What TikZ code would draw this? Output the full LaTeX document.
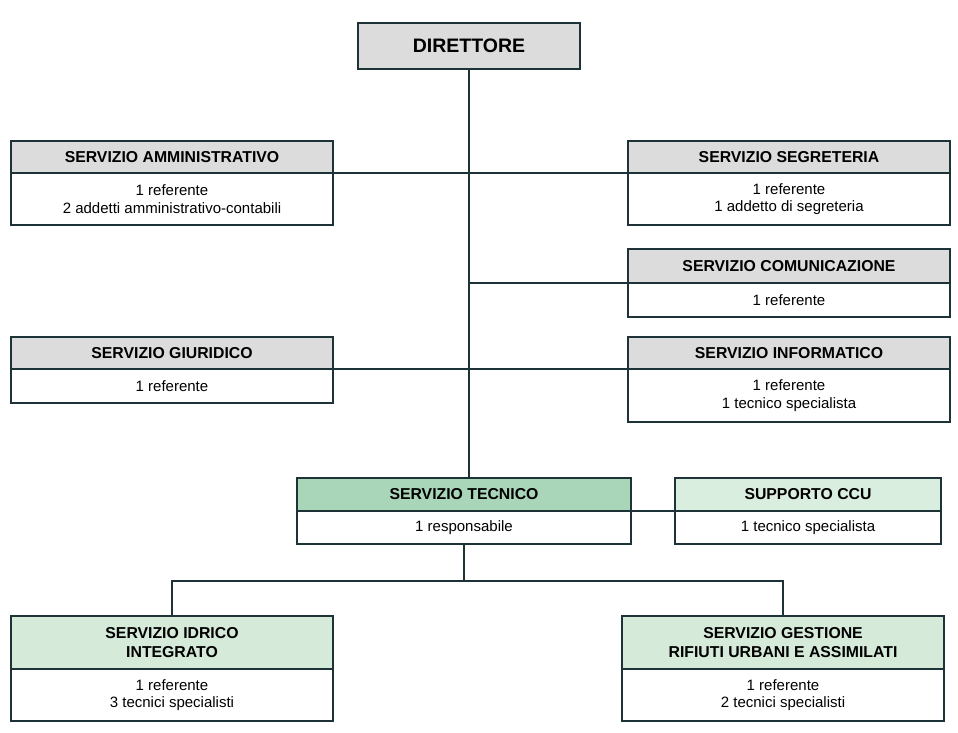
\documentclass[tikz,border=0pt]{standalone}
\usepackage{fontspec}
\setmainfont{Liberation Sans}
\usetikzlibrary{positioning}
\definecolor{edge}{HTML}{1D3337}
\definecolor{hgray}{HTML}{DCDCDC}
\definecolor{hgreen}{HTML}{A9D6B8}
\definecolor{lgreen}{HTML}{DAEEDF}
\definecolor{pgreen}{HTML}{D5EAD8}

\begin{document}
\begin{tikzpicture}[x=1pt,y=-1pt,
  head/.style={draw=edge,line width=1.5pt,fill=hgray,anchor=north west,inner sep=0pt,outer sep=0pt,
    align=center,font=\bfseries\fontsize{15.8}{19.5}\selectfont},
  body/.style={draw=edge,line width=1.5pt,fill=white,inner sep=0pt,outer sep=0pt,
    align=center,font=\fontsize{15}{17.5}\selectfont},
  link/.style={draw=edge,line width=1.5pt},
]
\useasboundingbox[fill=white] (0,0) rectangle (958,733);
% direttore
\node[head,minimum width=222,minimum height=46,font=\bfseries\fontsize{19.5}{21}\selectfont] (dir) at (358,23) {DIRETTORE};
% servizi di staff
\node[head,minimum width=322,minimum height=32] (ammH) at (11,141) {SERVIZIO AMMINISTRATIVO};
\node[body,minimum width=322,minimum height=52,below=0pt of ammH] (ammB) {1 referente\\2 addetti amministrativo-contabili};
\node[head,minimum width=322,minimum height=32] (segH) at (628,141) {SERVIZIO SEGRETERIA};
\node[body,minimum width=322,minimum height=52,below=0pt of segH] (segB) {1 referente\\1 addetto di segreteria};
\node[head,minimum width=322,minimum height=34] (comH) at (628,249) {SERVIZIO COMUNICAZIONE};
\node[body,minimum width=322,minimum height=34,below=0pt of comH] (comB) {1 referente};
\node[head,minimum width=322,minimum height=32] (giuH) at (11,337) {SERVIZIO GIURIDICO};
\node[body,minimum width=322,minimum height=34,below=0pt of giuH] (giuB) {1 referente};
\node[head,minimum width=322,minimum height=32] (infH) at (628,337) {SERVIZIO INFORMATICO};
\node[body,minimum width=322,minimum height=53,below=0pt of infH] (infB) {1 referente\\1 tecnico specialista};
% area tecnica
\node[head,fill=hgreen,minimum width=334,minimum height=33] (tecH) at (297,478) {SERVIZIO TECNICO};
\node[body,minimum width=334,minimum height=33,below=0pt of tecH] (tecB) {1 responsabile};
\node[head,fill=lgreen,minimum width=266,minimum height=33] (ccuH) at (675,478) {SUPPORTO CCU};
\node[body,minimum width=266,minimum height=33,below=0pt of ccuH] (ccuB) {1 tecnico specialista};
\node[head,fill=pgreen,minimum width=322,minimum height=53] (idrH) at (11,616) {SERVIZIO IDRICO\\INTEGRATO};
\node[body,minimum width=322,minimum height=52,below=0pt of idrH] (idrB) {1 referente\\3 tecnici specialisti};
\node[head,fill=pgreen,minimum width=322,minimum height=53] (gesH) at (622,616) {SERVIZIO GESTIONE\\RIFIUTI URBANI E ASSIMILATI};
\node[body,minimum width=322,minimum height=52,below=0pt of gesH] (gesB) {1 referente\\2 tecnici specialisti};
% collegamenti
\draw[link] (dir.south) -- (dir.south |- tecH.north);
\draw[link] (ammH.south east) -- (segH.south west);
\draw[link] (comH.south west) -- (comH.south west -| dir.south);
\draw[link] (giuH.south east) -- (infH.south west);
\draw[link] (tecH.south east) -- (ccuH.south west);
\draw[link] (tecB.south) -- (tecB.south |- 0,581) coordinate (fork);
\draw[link] (idrH.north) |- (fork) -| (gesH.north);
\end{tikzpicture}
\end{document}
